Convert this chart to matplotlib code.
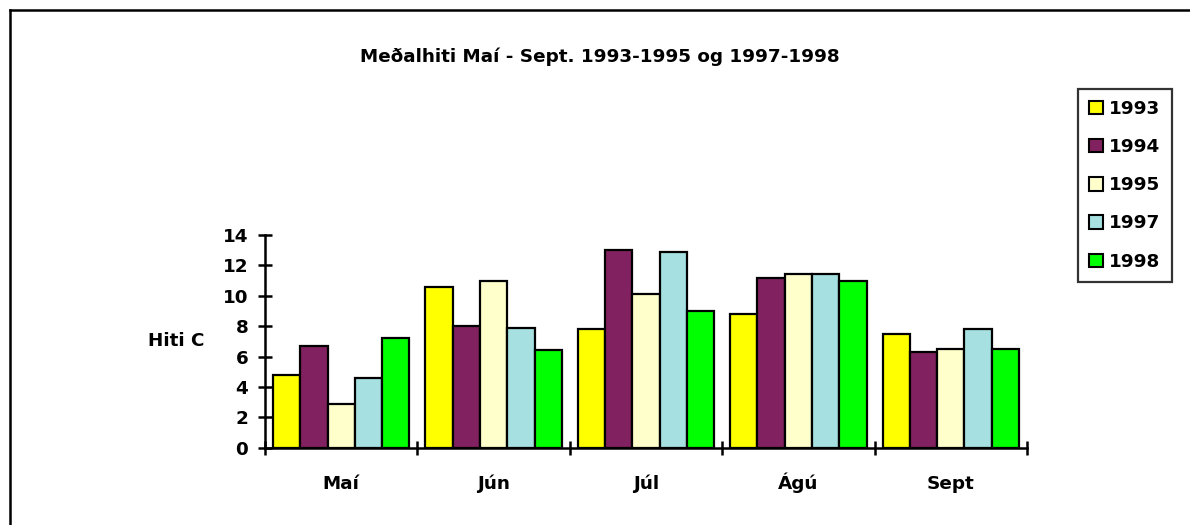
import matplotlib
matplotlib.use("Agg")
import matplotlib.pyplot as plt
from matplotlib.patches import Patch
from matplotlib.lines import Line2D
import numpy as np

months = ['Maí', 'Jún', 'Júl', 'Ágú', 'Sept']
years = ['1993', '1994', '1995', '1997', '1998']
t1993 = [4.8, 10.6, 7.8, 8.8, 7.5]
t1994 = [6.7, 8.0, 13.0, 11.2, 6.3]
t1995 = [2.9, 11.0, 10.1, 11.4, 6.5]
t1997 = [4.6, 7.9, 12.9, 11.4, 7.8]
t1998 = [7.2, 6.4, 9.0, 11.0, 6.5]
series = [t1993, t1994, t1995, t1997, t1998]
colors = ['#FFFF00', '#822160', '#FFFFCC', '#A6E0E0', '#00FF00']

plt.rcParams['font.family'] = ['DejaVu Sans']
plt.rcParams['font.weight'] = 'bold'
fs = 13.2

fig = plt.figure(figsize=(11.9, 5.25), dpi=100)
ax = fig.add_axes([0.2227, 0.1472, 0.6403, 0.4052])

x = np.arange(len(months))
w = 0.179
for j, (vals, c) in enumerate(zip(series, colors)):
    ax.bar(x + (j - 2) * w, vals, width=w, color=c, edgecolor='black', linewidth=1.6, zorder=2)

ax.set_xlim(-0.5, 4.5)
ax.set_ylim(0, 14)
ax.set_yticks(range(0, 15, 2))
ax.set_xticks(np.arange(-0.5, 5, 1))
ax.set_xticklabels([])
ax.tick_params(axis='x', which='major', direction='inout', length=10, width=1.8)
ax.tick_params(axis='y', direction='inout', length=10, width=1.8, labelsize=fs, pad=7)
for lab in ax.get_yticklabels():
    lab.set_fontweight('bold')
for s in ['top', 'right']:
    ax.spines[s].set_visible(False)
for s in ['left', 'bottom']:
    ax.spines[s].set_linewidth(1.8)

# month labels aligned on a common baseline
for xi, m in zip(x, months):
    ax.text(xi, -0.196, m, transform=ax.get_xaxis_transform(), ha='center', va='baseline',
            fontsize=fs, fontweight='bold')

fig.text(600 / 1190, 1 - 57 / 525, 'Meðalhiti Maí - Sept. 1993-1995 og 1997-1998',
         ha='center', va='center', fontsize=fs, fontweight='bold')
fig.text(176 / 1190, 1 - 341 / 525, 'Hiti C', ha='center', va='center',
         fontsize=fs, fontweight='bold')

handles = [Patch(facecolor=c, edgecolor='black', linewidth=1.5) for c in colors]
leg = fig.legend(handles, years, loc='upper left', bbox_to_anchor=(1078 / 1190, 1 - 89 / 525),
                 frameon=True, fancybox=False, shadow=False, fontsize=fs,
                 handlelength=0.75, handleheight=0.75, handletextpad=0.35,
                 labelspacing=1.1, borderpad=0.6, borderaxespad=0)
leg.get_frame().set_edgecolor('black')
leg.get_frame().set_linewidth(1.6)
for t in leg.get_texts():
    t.set_fontweight('bold')

# outer frame (top and left edges visible)
fig.add_artist(Line2D([10 / 1190, 1], [1 - 10 / 525, 1 - 10 / 525], transform=fig.transFigure,
                      color='black', linewidth=1.8))
fig.add_artist(Line2D([10 / 1190, 10 / 1190], [0, 1 - 10 / 525], transform=fig.transFigure,
                      color='black', linewidth=1.8))

fig.savefig('out.png', dpi=100)
